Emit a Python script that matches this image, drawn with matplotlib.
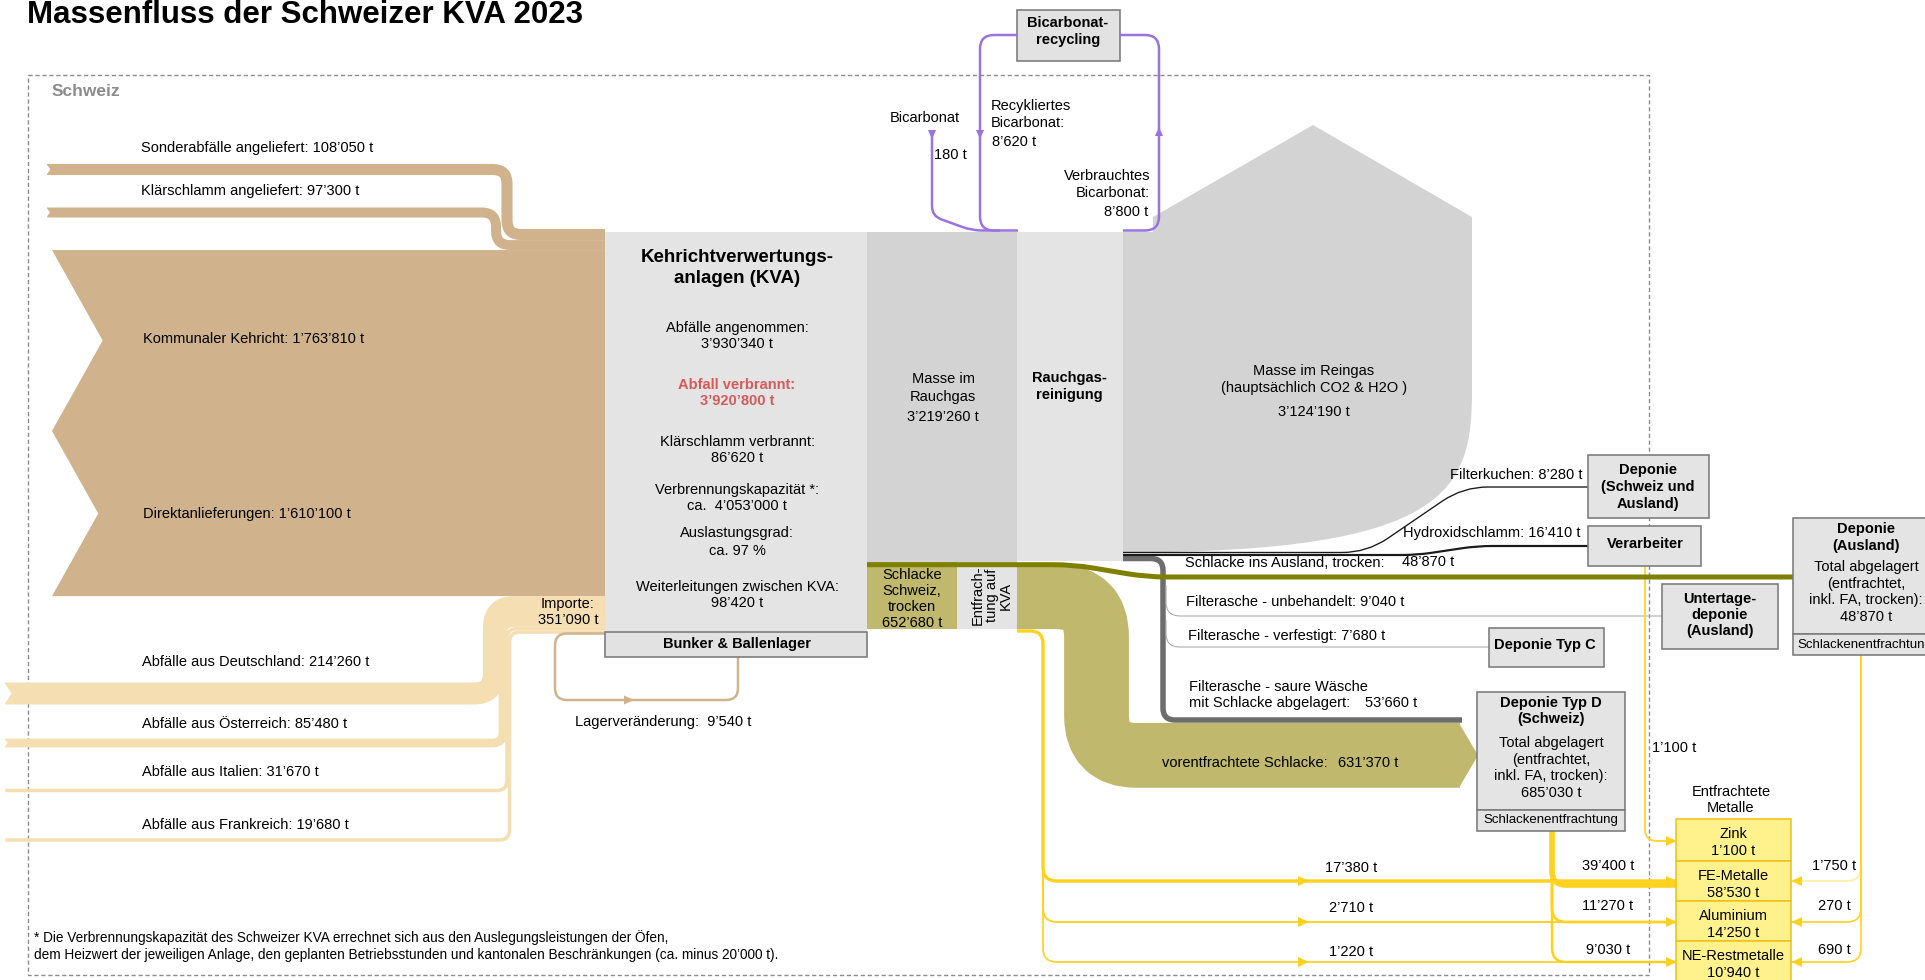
#!/usr/bin/env python3
import numpy as np
import matplotlib
matplotlib.use('Agg')
import matplotlib.pyplot as plt
from matplotlib.path import Path
from matplotlib.patches import PathPatch, Polygon, Rectangle

plt.rcParams['font.family'] = ['Liberation Sans', 'DejaVu Sans']

# Massenfluss der Schweizer KVA 2023, Werte in Tonnen
inflow_labels = ['Sonderabfälle angeliefert', 'Klärschlamm angeliefert',
                 'Kommunaler Kehricht', 'Direktanlieferungen']
inflow_values = [108050, 97300, 1763810, 1610100]

import_labels = ['Abfälle aus Deutschland', 'Abfälle aus Österreich',
                 'Abfälle aus Italien', 'Abfälle aus Frankreich']
import_values = [214260, 85480, 31670, 19680]
import_total = 351090

kva_labels = ['Abfälle angenommen:', 'Abfall verbrannt:', 'Klärschlamm verbrannt:',
              'Verbrennungskapazität *:', 'Auslastungsgrad:', 'Weiterleitungen zwischen KVA:']
kva_values = [3930340, 3920800, 86620, 4053000, 97, 98420]
storage_change = 9540

flue_gas = 3219260
clean_gas = 3124190
bicarb_values = [180, 8620, 8800]   # frisch, recykliert, verbraucht

slag_total = 652680
slag_pre = 631370
slag_abroad = 48870

residue_labels = ['Filterkuchen:', 'Hydroxidschlamm:', 'Filterasche - unbehandelt:',
                  'Filterasche - verfestigt:',
                  'Filterasche - saure Wäsche\nmit Schlacke abgelagert:']
residue_values = [8280, 16410, 9040, 7680, 53660]

landfill_d_total = 685030
landfill_abroad_total = 48870

metal_names = ['Zink', 'FE-Metalle', 'Aluminium', 'NE-Restmetalle']
metal_totals = [1100, 58530, 14250, 10940]
metal_from_kva = [17380, 2710, 1220]          # FE, Alu, NE
metal_from_landfill_d = [39400, 11270, 9030]
metal_from_abroad = [1750, 270, 690]
zinc_from_processor = 1100

S = 1 / 9750   # Pixel je Tonne
PX = 0.72      # Punkt je Pixel bei 100 dpi

TAN = '#D0B38C'
TAN_LIGHT = '#F4DEB2'
GREY_L = '#E4E4E4'
GREY_D = '#D3D3D3'
OLIVE = '#BFB86D'
OLIVE_D = '#808000'
YELLOW = '#FFD21F'
PURPLE = '#9B72E0'
BOX_EC = '#7A7A7A'


def t(v):
    return f'{v:,}'.replace(',', '\u2019') + ' t'


def rpath(pts, r):
    verts = [pts[0]]
    codes = [Path.MOVETO]
    for i in range(1, len(pts) - 1):
        p0, p1, p2 = (np.array(pts[j], float) for j in (i - 1, i, i + 1))
        d1 = p1 - p0
        d2 = p2 - p1
        l1, l2 = np.hypot(*d1), np.hypot(*d2)
        rr = min(r, l1 / 2, l2 / 2)
        verts += [p1 - d1 / l1 * rr, p1, p1 + d2 / l2 * rr]
        codes += [Path.LINETO, Path.CURVE3, Path.CURVE3]
    verts.append(pts[-1])
    codes.append(Path.LINETO)
    return Path(verts, codes)


def flow(ax, pts, w, color, r=12, z=2):
    ax.add_patch(PathPatch(rpath(pts, r), fill=False, edgecolor=color, lw=w * PX,
                           capstyle='butt', joinstyle='round', zorder=z))


def head(ax, x, y, d, color, size=9, z=7):
    dx, dy = {'r': (1, 0), 'l': (-1, 0), 'u': (0, -1), 'd': (0, 1)}[d]
    bx, by = x - dx * size, y - dy * size
    hw = size * 0.45
    ax.add_patch(Polygon([(x, y), (bx - dy * hw, by + dx * hw), (bx + dy * hw, by - dx * hw)],
                         closed=True, fc=color, ec='none', zorder=z))


def notch(ax, x, yc, w):
    d = 0.3 * w
    ax.add_patch(Polygon([(x - 1, yc - w / 2 - 0.5), (x + d, yc), (x - 1, yc + w / 2 + 0.5)],
                         closed=True, fc='white', ec='none', zorder=3))


def box(ax, x0, y0, x1, y1, fc='#E4E4E4', ec=BOX_EC, lw=1.6, z=5):
    ax.add_patch(Rectangle((x0, y0), x1 - x0, y1 - y0, fc=fc, ec=ec, lw=lw * PX, zorder=z))


def lines(ax, x, y, s, dy=15.5, size=10.5, ha='center', **kw):
    for i, line in enumerate(s.split('\n')):
        ax.text(x, y + i * dy, line, ha=ha, va='center', fontsize=size, zorder=10, **kw)


def main():
    fig = plt.figure(figsize=(19.25, 9.8), dpi=100)
    ax = fig.add_axes([0, 0, 1, 1])
    ax.set_xlim(0, 1925)
    ax.set_ylim(980, 0)
    ax.axis('off')

    ax.text(27, 23, 'Massenfluss der Schweizer KVA 2023', fontsize=22.5,
            fontweight='bold', va='baseline')
    ax.add_patch(Rectangle((28, 75), 1621, 900, fill=False, ec='#8C8C8C', lw=1.0,
                           ls=(0, (3, 2)), zorder=0))
    ax.text(52, 92, 'Schweiz', fontsize=12.5, fontweight='bold', color='#8C8C8C', va='center')

    kva_top, kva_left, kva_right = 232, 605, 867

    # Anlieferungen Schweiz
    h = [v * S for v in inflow_values]
    stack = []
    y = kva_top - 3
    for hh in h:
        stack.append((y, y + hh))
        y += hh
    band_y = [169.5, 212.5]
    turn_x = [507, 496]
    for i in range(2):
        yc = sum(stack[i]) / 2
        flow(ax, [(47, band_y[i]), (turn_x[i], band_y[i]), (turn_x[i], yc), (kva_left, yc)],
             h[i], TAN, r=14)
        notch(ax, 47, band_y[i], h[i])
        lines(ax, 141, band_y[i] - 21.5, f'{inflow_labels[i]}: {t(inflow_values[i])}', ha='left')
    k0, k1 = stack[2]
    d0, d1 = stack[3]
    ax.add_patch(Polygon([(52, k0), (kva_left, k0), (kva_left, d1), (52, d1),
                          (52 + 0.28 * h[3], (d0 + d1) / 2), (52, k1),
                          (52 + 0.28 * h[2], (k0 + k1) / 2)],
                         closed=True, fc=TAN, ec='none', zorder=2))
    lines(ax, 143, (k0 + k1) / 2 - 2, f'{inflow_labels[2]}: {t(inflow_values[2])}', ha='left')
    lines(ax, 143, (d0 + d1) / 2, f'{inflow_labels[3]}: {t(inflow_values[3])}', ha='left')

    # Importe
    imp_y = [693.5, 743, 790.5, 840]
    imp_x = [494, 503, 507, 509.5]
    imp_label_y = [662, 724, 772, 825]
    y = d1
    for i, v in enumerate(import_values):
        w = max(v * S, 3.5)
        yc = y + w / 2
        y += w
        flow(ax, [(5, imp_y[i]), (imp_x[i], imp_y[i]), (imp_x[i], yc), (kva_left, yc)],
             w, TAN_LIGHT, r=20 if i == 0 else 10)
        notch(ax, 5, imp_y[i], w)
        lines(ax, 142, imp_label_y[i], f'{import_labels[i]}: {t(v)}', ha='left')
    lines(ax, 568, 604, 'Importe:\n' + t(import_total), dy=16)

    # KVA
    kva_bottom = 632
    ax.add_patch(Rectangle((kva_left, kva_top), kva_right - kva_left, kva_bottom - kva_top,
                           fc=GREY_L, ec='none', zorder=1))
    box(ax, kva_left, kva_bottom, kva_right, 657, fc='#E2E2E2')
    lines(ax, 737, 644, 'Bunker & Ballenlager', weight='bold')
    lines(ax, 737, 257, 'Kehrichtverwertungs-\nanlagen (KVA)', dy=21, size=13.5, weight='bold')
    kva_text = [t(kva_values[0]), t(kva_values[1]), t(kva_values[2]),
                'ca.  ' + t(kva_values[3]), f'ca. {kva_values[4]} %', t(kva_values[5])]
    kva_y = [328, 385, 442, 490, 533, 587]
    for i in range(6):
        kw = dict(color='#D65A5A', weight='bold') if i == 1 else {}
        lines(ax, 737, kva_y[i], kva_labels[i] + '\n' + kva_text[i],
              dy=18 if i == 4 else 15.5, **kw)

    # Lagerveränderung
    flow(ax, [(kva_left, 633.5), (555, 633.5), (555, 700), (738, 700), (738, 657)],
         2.5, TAN, r=12, z=3)
    head(ax, 634, 700, 'r', TAN, 10)
    lines(ax, 575, 722, 'Lagerveränderung:  ' + t(storage_change), ha='left')

    # Rauchgas
    gas_bottom = kva_top + flue_gas * S
    ax.add_patch(Rectangle((kva_right, kva_top), 150, gas_bottom - kva_top,
                           fc=GREY_D, ec='none', zorder=1))
    ax.add_patch(Rectangle((1017, kva_top), 106, gas_bottom - kva_top - 1,
                           fc=GREY_L, ec='none', zorder=1))
    lines(ax, 943, 379, 'Masse im\nRauchgas', dy=18)
    lines(ax, 943, 417, t(flue_gas))
    lines(ax, 1069, 378, 'Rauchgas-\nreinigung', dy=17, weight='bold')

    clean_bottom = kva_top + clean_gas * S
    verts = [(1123, kva_top), (1153, kva_top), (1153, 217), (1313, 125), (1472, 217),
             (1472, 390), (1472, 490), (1450, clean_bottom), (1123, clean_bottom), (1123, kva_top)]
    codes = [Path.MOVETO] + [Path.LINETO] * 5 + [Path.CURVE4] * 3 + [Path.CLOSEPOLY]
    ax.add_patch(PathPatch(Path(verts, codes), fc=GREY_D, ec='none', zorder=1))
    lines(ax, 1314, 371, 'Masse im Reingas\n(hauptsächlich CO2 & H2O )', dy=17)
    lines(ax, 1314, 412, t(clean_gas))

    # Bicarbonat
    box(ax, 1017, 10, 1120, 61, fc='#E2E2E2')
    lines(ax, 1068, 23, 'Bicarbonat-\nrecycling', dy=17, weight='bold')
    flow(ax, [(1017, 35), (980, 35), (980, 230.5), (1018, 230.5)], 2.5, PURPLE, r=14, z=6)
    flow(ax, [(1123, 230.5), (1159, 230.5), (1159, 35), (1120, 35)], 2.5, PURPLE, r=14, z=6)
    flow(ax, [(932, 134), (932, 216), (972, 230.5), (1000, 230.5)], 2.5, PURPLE, r=10, z=6)
    head(ax, 980, 139, 'd', PURPLE)
    head(ax, 1159, 127, 'u', PURPLE)
    head(ax, 932, 139, 'd', PURPLE)
    lines(ax, 925, 118, 'Bicarbonat')
    lines(ax, 934, 155, t(bicarb_values[0]), ha='left')
    lines(ax, 991, 106, 'Recykliertes\nBicarbonat:', dy=17, ha='left')
    lines(ax, 992, 142, t(bicarb_values[1]), ha='left')
    lines(ax, 1150, 176, 'Verbrauchtes\nBicarbonat:', dy=17, ha='right')
    lines(ax, 1148, 212, t(bicarb_values[2]), ha='right')

    # Schlacke
    slag_h = slag_total * S
    ax.add_patch(Rectangle((kva_right, gas_bottom), 90, slag_h, fc=OLIVE, ec='none', zorder=2))
    ax.add_patch(Rectangle((957, gas_bottom), 60, slag_h, fc=GREY_L, ec='none', zorder=2))
    lines(ax, 912, 575, 'Schlacke\nSchweiz,\ntrocken\n' + t(slag_total), dy=16)
    ax.text(992, gas_bottom + slag_h / 2, 'Entfrach-\ntung auf\nKVA', rotation=90, ha='center',
            va='center', fontsize=10.5, multialignment='center', linespacing=1.0, zorder=10)

    pre_h = slag_pre * S
    pre_y = gas_bottom + slag_h - pre_h / 2
    low_y = 723 + pre_h / 2
    flow(ax, [(1017, pre_y), (1096.5, pre_y), (1096.5, low_y), (1460, low_y)], pre_h, OLIVE, r=40)
    ax.add_patch(Polygon([(1459, low_y - pre_h / 2), (1478, low_y), (1459, low_y + pre_h / 2)],
                         closed=True, fc=OLIVE, ec='none', zorder=2))
    lines(ax, 1162, 763, 'vorentfrachtete Schlacke:', ha='left')
    lines(ax, 1338, 763, t(slag_pre), ha='left')

    flow(ax, [(kva_right, gas_bottom + 2.5), (1073, gas_bottom + 2.5), (1147, 577), (1793, 577)],
         slag_abroad * S, OLIVE_D, r=20, z=4)
    lines(ax, 1185, 563, 'Schlacke ins Ausland, trocken:', ha='left')
    lines(ax, 1402, 562, t(slag_abroad), ha='left')

    # Rückstände Rauchgasreinigung
    flow(ax, [(1123, 558.5), (1163, 558.5), (1163, 720), (1462, 720)],
         residue_values[4] * S, '#6D6D6D', r=12, z=3)
    flow(ax, [(1166, 585), (1166, 616), (1662, 616)], 1.0, '#A6A6A6', r=14, z=3)
    flow(ax, [(1166, 620), (1166, 647), (1489, 647)], 1.0, '#A6A6A6', r=14, z=3)
    flow(ax, [(1123, 552.5), (1367, 552.5), (1463, 487), (1588, 487)],
         0.5 + residue_values[0] * S, '#1A1A1A', r=25, z=4)
    flow(ax, [(1123, 555), (1417, 555), (1477, 546), (1588, 546)],
         0.5 + residue_values[1] * S, '#1A1A1A', r=15, z=4)
    lines(ax, 1583, 475, f'{residue_labels[0]} {t(residue_values[0])}', ha='right')
    lines(ax, 1403, 533, f'{residue_labels[1]} {t(residue_values[1])}', ha='left')
    lines(ax, 1186, 602, f'{residue_labels[2]} {t(residue_values[2])}', ha='left')
    lines(ax, 1188, 636, f'{residue_labels[3]} {t(residue_values[3])}', ha='left')
    lines(ax, 1189, 687, residue_labels[4], dy=16, ha='left')
    lines(ax, 1365, 703, t(residue_values[4]), ha='left')

    # Zielboxen
    box(ax, 1588, 455, 1709, 518)
    lines(ax, 1648, 470, 'Deponie\n(Schweiz und\nAusland)', dy=17, weight='bold')
    box(ax, 1588, 526, 1701, 566)
    lines(ax, 1645, 544, 'Verarbeiter', weight='bold')
    box(ax, 1662, 584, 1778, 649)
    lines(ax, 1720, 599, 'Untertage-\ndeponie\n(Ausland)', dy=16, weight='bold')
    box(ax, 1489, 628, 1604, 667)
    lines(ax, 1545, 645, 'Deponie Typ C', weight='bold')
    box(ax, 1793, 518, 1940, 634)
    box(ax, 1793, 634, 1940, 655)
    lines(ax, 1866, 529, 'Deponie\n(Ausland)', dy=17, weight='bold')
    lines(ax, 1866, 567, 'Total abgelagert\n(entfrachtet,\ninkl. FA, trocken):\n'
          + t(landfill_abroad_total), dy=16.7)
    lines(ax, 1797, 645, 'Schlackenentfrachtung', ha='left', size=9.5)
    box(ax, 1477, 692, 1625, 810)
    box(ax, 1477, 810, 1625, 831)
    lines(ax, 1551, 703, 'Deponie Typ D\n(Schweiz)', dy=16, weight='bold')
    lines(ax, 1551, 743, 'Total abgelagert\n(entfrachtet,\ninkl. FA, trocken):\n'
          + t(landfill_d_total), dy=16.7)
    lines(ax, 1551, 820, 'Schlackenentfrachtung', size=9.5)

    # Metalle
    lines(ax, 1731, 792, 'Entfrachtete\nMetalle', dy=16)
    metal_y = [819, 861, 901, 941, 990]
    for i, name in enumerate(metal_names):
        box(ax, 1676, metal_y[i], 1791, metal_y[i + 1], fc='#FFF18C', ec='#EFC11C', z=6)
        lines(ax, 1733, metal_y[i] + 15, name + '\n' + t(metal_totals[i]), dy=17)

    kva_y_m = [881, 922, 962]
    dep_y_m = [885, 922, 962]
    kva_lab = [868, 908, 952]
    for i in range(3):
        flow(ax, [(1017, 631), (1043, 631), (1043, kva_y_m[i]), (1676, kva_y_m[i])],
             1.6 + metal_from_kva[i] * S, YELLOW, r=14, z=3)
        head(ax, 1309, kva_y_m[i], 'r', YELLOW, 11)
        head(ax, 1677, kva_y_m[i], 'r', YELLOW, 11)
        lines(ax, 1351, kva_lab[i], t(metal_from_kva[i]))
        flow(ax, [(1552, 831), (1552, dep_y_m[i]), (1676, dep_y_m[i])],
             1.6 + metal_from_landfill_d[i] * S, YELLOW, r=14, z=3)
        lines(ax, 1608, kva_lab[i] - 2, t(metal_from_landfill_d[i]))
        col = '#FFF0A8' if i == 0 else YELLOW
        flow(ax, [(1861, 655), (1861, kva_y_m[i]), (1791, kva_y_m[i])],
             1.6 + metal_from_abroad[i] * S, col, r=14, z=3)
        head(ax, 1791, kva_y_m[i], 'l', YELLOW, 11)
        lines(ax, 1834, kva_lab[i] - 2, t(metal_from_abroad[i]))
    flow(ax, [(1645, 566), (1645, 841), (1676, 841)], 1.6 + zinc_from_processor * S,
         YELLOW, r=12, z=3)
    head(ax, 1677, 841, 'r', YELLOW, 11)
    lines(ax, 1652, 748, t(zinc_from_processor), ha='left')

    lines(ax, 34, 938, '* Die Verbrennungskapazität des Schweizer KVA errechnet sich aus den '
          'Auslegungsleistungen der Öfen,\ndem Heizwert der jeweiligen Anlage, den geplanten '
          'Betriebsstunden und kantonalen Beschränkungen (ca. minus 20\u2019000 t).',
          dy=17, size=9.8, ha='left')

    fig.savefig('out.png', dpi=100, facecolor='white')


if __name__ == '__main__':
    main()
